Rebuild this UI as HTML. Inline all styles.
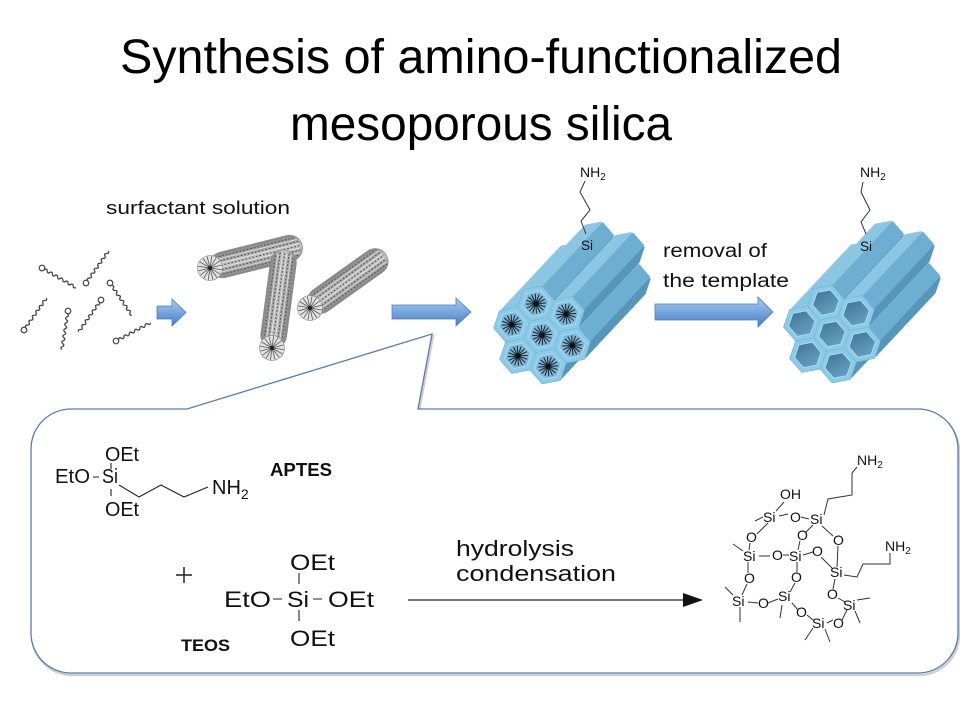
<!DOCTYPE html>
<html><head><meta charset="utf-8">
<style>
html,body{margin:0;padding:0;background:#fff;}
svg{display:block;}
text{font-family:"Liberation Sans",Arial,sans-serif;fill:#111;}
</style></head>
<body>
<svg width="960" height="720" viewBox="0 0 960 720" xmlns="http://www.w3.org/2000/svg" xmlns:xlink="http://www.w3.org/1999/xlink">
<defs>
<linearGradient id="ag" x1="0" y1="0" x2="0" y2="1">
<stop offset="0" stop-color="#abcaef"/><stop offset=".5" stop-color="#77a5dc"/><stop offset="1" stop-color="#4a7dbf"/>
</linearGradient>
<linearGradient id="rg" x1="0" y1="0" x2="0" y2="1">
<stop offset="0" stop-color="#858585"/><stop offset=".5" stop-color="#c4c4c4"/><stop offset="1" stop-color="#858585"/>
</linearGradient>
<linearGradient id="hg" x1="0" y1="0" x2="1" y2="1">
<stop offset="0" stop-color="#3e7294"/><stop offset="1" stop-color="#6ea6c8"/>
</linearGradient>
<g id="h">
<polygon points="15.16,8.75 0,17.5 -15.16,8.75 -15.16,-8.75 0,-17.5 15.16,-8.75" fill="#67a5ca"/>
<line x1="15.16" y1="-8.75" x2="15.16" y2="8.75" stroke="#5895bb" stroke-width="3"/>
<line x1="0" y1="-17.5" x2="15.16" y2="-8.75" stroke="#6eaed3" stroke-width="3"/>
<line x1="-15.16" y1="-8.75" x2="0" y2="-17.5" stroke="#8dc6e3" stroke-width="3"/>
</g>
<g id="cl" transform="rotate(19)">
<use href="#h" x="0" y="0"/><use href="#h" x="32" y="0"/><use href="#h" x="16" y="27.71"/><use href="#h" x="-16" y="27.71"/><use href="#h" x="-32" y="0"/><use href="#h" x="-16" y="-27.71"/><use href="#h" x="16" y="-27.71"/>
</g>
<g id="body">
<use href="#cl" x="60" y="-64"/><use href="#cl" x="58.75" y="-62.67"/><use href="#cl" x="57.5" y="-61.33"/><use href="#cl" x="56.25" y="-60"/>
<use href="#cl" x="55" y="-58.67"/><use href="#cl" x="53.75" y="-57.33"/><use href="#cl" x="52.5" y="-56"/><use href="#cl" x="51.25" y="-54.67"/>
<use href="#cl" x="50" y="-53.33"/><use href="#cl" x="48.75" y="-52"/><use href="#cl" x="47.5" y="-50.67"/><use href="#cl" x="46.25" y="-49.33"/>
<use href="#cl" x="45" y="-48"/><use href="#cl" x="43.75" y="-46.67"/><use href="#cl" x="42.5" y="-45.33"/><use href="#cl" x="41.25" y="-44"/>
<use href="#cl" x="40" y="-42.67"/><use href="#cl" x="38.75" y="-41.33"/><use href="#cl" x="37.5" y="-40"/><use href="#cl" x="36.25" y="-38.67"/>
<use href="#cl" x="35" y="-37.33"/><use href="#cl" x="33.75" y="-36"/><use href="#cl" x="32.5" y="-34.67"/><use href="#cl" x="31.25" y="-33.33"/>
<use href="#cl" x="30" y="-32"/><use href="#cl" x="28.75" y="-30.67"/><use href="#cl" x="27.5" y="-29.33"/><use href="#cl" x="26.25" y="-28"/>
<use href="#cl" x="25" y="-26.67"/><use href="#cl" x="23.75" y="-25.33"/><use href="#cl" x="22.5" y="-24"/><use href="#cl" x="21.25" y="-22.67"/>
<use href="#cl" x="20" y="-21.33"/><use href="#cl" x="18.75" y="-20"/><use href="#cl" x="17.5" y="-18.67"/><use href="#cl" x="16.25" y="-17.33"/>
<use href="#cl" x="15" y="-16"/><use href="#cl" x="13.75" y="-14.67"/><use href="#cl" x="12.5" y="-13.33"/><use href="#cl" x="11.25" y="-12"/>
<use href="#cl" x="10" y="-10.67"/><use href="#cl" x="8.75" y="-9.33"/><use href="#cl" x="7.5" y="-8"/><use href="#cl" x="6.25" y="-6.67"/>
<use href="#cl" x="5" y="-5.33"/><use href="#cl" x="3.75" y="-4"/><use href="#cl" x="2.5" y="-2.67"/><use href="#cl" x="1.25" y="-1.33"/>
</g>
<g id="ds">
<path d="M-10,0H10M0,-10V10M-7.07,-7.07L7.07,7.07M-7.07,7.07L7.07,-7.07M-9.24,-3.83L9.24,3.83M-9.24,3.83L9.24,-3.83M-3.83,-9.24L3.83,9.24M3.83,-9.24L-3.83,9.24" stroke="#1d2b38" stroke-width="1.1"/>
<circle r="2.5" fill="#111"/>
</g>
<g id="f1">
<polygon points="16.02,9.25 0,18.5 -16.02,9.25 -16.02,-9.25 0,-18.5 16.02,-9.25" fill="#8ccbe8" stroke="#78b8d9" stroke-width=".8"/>
<polygon points="11.69,6.75 0,13.5 -11.69,6.75 -11.69,-6.75 0,-13.5 11.69,-6.75" fill="#82b7d6" stroke="#a8dcf2" stroke-width="1"/>
<use href="#ds"/>
</g>
<g id="f2">
<polygon points="16.02,9.25 0,18.5 -16.02,9.25 -16.02,-9.25 0,-18.5 16.02,-9.25" fill="#8ccbe8" stroke="#78b8d9" stroke-width=".8"/>
<polygon points="11.69,6.75 0,13.5 -11.69,6.75 -11.69,-6.75 0,-13.5 11.69,-6.75" fill="url(#hg)" stroke="#a8dcf2" stroke-width="1"/>
</g>
<g id="fc1" transform="rotate(19)">
<use href="#f1" x="0" y="0"/><use href="#f1" x="32" y="0"/><use href="#f1" x="16" y="27.71"/><use href="#f1" x="-16" y="27.71"/><use href="#f1" x="-32" y="0"/><use href="#f1" x="-16" y="-27.71"/><use href="#f1" x="16" y="-27.71"/>
</g>
<g id="fc2" transform="rotate(19)">
<use href="#f2" x="0" y="0"/><use href="#f2" x="32" y="0"/><use href="#f2" x="16" y="27.71"/><use href="#f2" x="-16" y="27.71"/><use href="#f2" x="-32" y="0"/><use href="#f2" x="-16" y="-27.71"/><use href="#f2" x="16" y="-27.71"/>
</g>
<g id="gs">
<circle r="12.5" fill="#e2e2e2" stroke="#8a8a8a" stroke-width=".6"/>
<path d="M-12,0H12M0,-12V12M-8.5,-8.5L8.5,8.5M-8.5,8.5L8.5,-8.5M-11.1,-4.6L11.1,4.6M-11.1,4.6L11.1,-4.6M-4.6,-11.1L4.6,11.1M4.6,-11.1L-4.6,11.1" stroke="#555" stroke-width=".8"/>
<circle r="2" fill="#222"/>
</g>
<g id="sm">
<path d="M3,0 q1.5,-2.4 3,0 t3,0 t3,0 t3,0 t3,0 t3,0 t3,0 t3,0 t3,0 t3,0 t3,0 t3,0" fill="none" stroke="#444" stroke-width="1.3"/>
<circle r="2.8" fill="#fff" stroke="#444" stroke-width="1.2"/>
</g>
</defs>

<rect width="960" height="720" fill="#fff"/>

<!-- Title -->
<text x="120" y="73" font-size="48" textLength="722" lengthAdjust="spacingAndGlyphs" style="fill:#000">Synthesis of amino-functionalized</text>
<text x="290" y="140" font-size="48" textLength="382" lengthAdjust="spacingAndGlyphs" style="fill:#000">mesoporous silica</text>

<text x="106" y="214" font-size="18" textLength="184" lengthAdjust="spacingAndGlyphs">surfactant solution</text>

<!-- surfactant molecules -->
<use href="#sm" transform="translate(42,268) rotate(30)"/>
<use href="#sm" transform="translate(86,283) rotate(-55)"/>
<use href="#sm" transform="translate(110,283) rotate(56)"/>
<use href="#sm" transform="translate(24,330) rotate(-55)"/>
<use href="#sm" transform="translate(68,311) rotate(99)"/>
<use href="#sm" transform="translate(101,300) rotate(125)"/>
<use href="#sm" transform="translate(116,341) rotate(-28)"/>

<!-- callout box -->
<path d="M31,449 A40,40 0 0 1 71,409 L187,409 L432,334 L418,409 L918,409 A40,40 0 0 1 958,449 L958,633 A40,40 0 0 1 918,673 L71,673 A40,40 0 0 1 31,633 Z" fill="none" stroke="#cfcfcf" stroke-width="2.5" transform="translate(1,2)"/>
<path d="M31,449 A40,40 0 0 1 71,409 L187,409 L432,334 L418,409 L918,409 A40,40 0 0 1 958,449 L958,633 A40,40 0 0 1 918,673 L71,673 A40,40 0 0 1 31,633 Z" fill="#fff" stroke="#5a7ab0" stroke-width="1.3"/>

<!-- arrows -->
<path d="M157,306 H172 V299 L186,312.5 L172,326 V319 H157 Z" fill="url(#ag)" stroke="#4f7fb8" stroke-width=".8"/>
<path d="M392,305 H456 V298 L471,312 L456,326 V319 H392 Z" fill="url(#ag)" stroke="#4f7fb8" stroke-width=".8"/>
<path d="M655,304 H758 V297 L773,312 L758,327 V320 H655 Z" fill="url(#ag)" stroke="#4f7fb8" stroke-width=".8"/>

<!-- micelle rods -->
<g transform="translate(210,268) rotate(-14)">
<rect x="0" y="-13" width="95" height="26" rx="13" fill="url(#rg)" stroke="#888" stroke-width=".6"/>
<path d="M4,-9H90M4,-4.5H92M4,0H93M4,4.5H92M4,9H90" stroke="#555" stroke-width="1.1" stroke-dasharray="1.8 1.8"/>
<path d="M4,-6.7H91M4,-2.2H92M4,2.2H92M4,6.7H91" stroke="#eee" stroke-width=".7"/>
<use href="#gs"/>
</g>
<g transform="translate(272,348) rotate(-82.4)">
<rect x="0" y="-13" width="99" height="26" rx="13" fill="url(#rg)" stroke="#888" stroke-width=".6"/>
<path d="M4,-9H94M4,-4.5H96M4,0H97M4,4.5H96M4,9H94" stroke="#555" stroke-width="1.1" stroke-dasharray="1.8 1.8"/>
<path d="M4,-6.7H95M4,-2.2H96M4,2.2H96M4,6.7H95" stroke="#eee" stroke-width=".7"/>
<use href="#gs"/>
</g>
<g transform="translate(310,308) rotate(-35.5)">
<rect x="0" y="-13" width="93" height="26" rx="13" fill="url(#rg)" stroke="#888" stroke-width=".6"/>
<path d="M4,-9H88M4,-4.5H90M4,0H91M4,4.5H90M4,9H88" stroke="#555" stroke-width="1.1" stroke-dasharray="1.8 1.8"/>
<path d="M4,-6.7H89M4,-2.2H90M4,2.2H90M4,6.7H89" stroke="#eee" stroke-width=".7"/>
<use href="#gs"/>
</g>

<!-- cylinder 1 -->
<g transform="translate(542,335)">
<use href="#body"/>
<use href="#fc1"/>
</g>
<path d="M585,181 L580,192 L590,210 L581,221 L586,234" fill="none" stroke="#333" stroke-width="1"/>
<text x="580" y="177" font-size="14">NH<tspan font-size="10" dy="3">2</tspan></text>
<text x="581" y="250" font-size="13.5">Si</text>

<!-- cylinder 2 -->
<g transform="translate(832,334)">
<use href="#body"/>
<use href="#fc2"/>
</g>
<path d="M863,182 L861,192 L870,210 L861,222 L866,234" fill="none" stroke="#333" stroke-width="1"/>
<text x="860" y="177" font-size="14">NH<tspan font-size="10" dy="3">2</tspan></text>
<text x="860" y="251" font-size="13.5">Si</text>

<text x="663" y="257" font-size="19" textLength="104" lengthAdjust="spacingAndGlyphs">removal of</text>
<text x="663" y="287" font-size="19" textLength="126" lengthAdjust="spacingAndGlyphs">the template</text>

<!-- APTES -->
<g font-size="20">
<text x="105" y="461" textLength="34" lengthAdjust="spacingAndGlyphs">OEt</text>
<text x="55" y="483" textLength="35" lengthAdjust="spacingAndGlyphs">EtO</text>
<text x="102" y="483" textLength="16" lengthAdjust="spacingAndGlyphs">Si</text>
<text x="105" y="516" textLength="34" lengthAdjust="spacingAndGlyphs">OEt</text>
<text x="212" y="494">NH<tspan font-size="14" dy="5">2</tspan></text>
</g>
<path d="M111,463V469M93,477H99M111,489V496M119,485L139,497L161,485L184,497L208,487" fill="none" stroke="#222" stroke-width="1.1"/>
<text x="270" y="476" font-size="18" font-weight="bold" textLength="62" lengthAdjust="spacingAndGlyphs">APTES</text>

<!-- TEOS -->
<path d="M176,575H192M184,567V583" stroke="#222" stroke-width="1.5"/>
<g font-size="22">
<text x="290" y="570" textLength="45" lengthAdjust="spacingAndGlyphs">OEt</text>
<text x="224" y="607" textLength="47" lengthAdjust="spacingAndGlyphs">EtO</text>
<text x="287" y="607" textLength="22" lengthAdjust="spacingAndGlyphs">Si</text>
<text x="328" y="607" textLength="46" lengthAdjust="spacingAndGlyphs">OEt</text>
<text x="290" y="646" textLength="45" lengthAdjust="spacingAndGlyphs">OEt</text>
</g>
<path d="M299,573V584M273,599H282M313,599H322M299,610V621" stroke="#222" stroke-width="1.1"/>
<text x="181" y="651" font-size="17" font-weight="bold" textLength="49" lengthAdjust="spacingAndGlyphs">TEOS</text>

<!-- reaction arrow -->
<text x="456" y="556" font-size="22" textLength="118" lengthAdjust="spacingAndGlyphs">hydrolysis</text>
<text x="456" y="581" font-size="22" textLength="160" lengthAdjust="spacingAndGlyphs">condensation</text>
<line x1="408" y1="600" x2="688" y2="600" stroke="#222" stroke-width="1.2"/>
<path d="M683,593 L703,600 L683,607 Z" fill="#111"/>

<!-- product -->
<g font-size="14">
<text x="857" y="465">NH<tspan font-size="10" dy="3">2</tspan></text>
<text x="780" y="499">OH</text>
<text x="763" y="522">Si</text>
<text x="790" y="522">O</text>
<text x="810" y="524">Si</text>
<text x="746" y="542">O</text>
<text x="797" y="540">O</text>
<text x="833" y="545">O</text>
<text x="885" y="551">NH<tspan font-size="10" dy="3">2</tspan></text>
<text x="743" y="561">Si</text>
<text x="772" y="560">O</text>
<text x="789" y="561">Si</text>
<text x="812" y="556">O</text>
<text x="830" y="577">Si</text>
<text x="744" y="583">O</text>
<text x="791" y="582">O</text>
<text x="827" y="599">O</text>
<text x="732" y="606">Si</text>
<text x="758" y="608">O</text>
<text x="778" y="601">Si</text>
<text x="796" y="617">O</text>
<text x="843" y="610">Si</text>
<text x="833" y="628">O</text>
<text x="812" y="628">Si</text>
</g>
<path d="M784,502L776,511 M779,516L788,514 M801,517L809,519 M755,521L763,517 M768,523L757,534 M750,543L749,550 M733,544L743,551 M759,556L770,556 M783,555L789,555 M813,525L805,533 M800,541L798,550 M822,526L833,536 M838,546L837,567 M824,515L828,499L852,495L852,473L857,467 M803,555L813,552 M821,557L832,568 M844,575L857,577L863,564L890,564L890,553 M797,562L797,572 M795,583L790,592 M748,562L748,573 M747,584L742,595 M733,595L725,587 M740,607L740,622 M748,602L758,603 M768,603L778,599 M782,605L780,618 M792,603L798,610 M807,615L813,620 M813,628L805,640 M825,629L830,642 M827,623L833,620 M842,620L847,610 M835,579L833,589 M838,598L845,602 M857,600L870,598 M855,611L860,623" fill="none" stroke="#333" stroke-width="1"/>
</svg>
</body></html>
